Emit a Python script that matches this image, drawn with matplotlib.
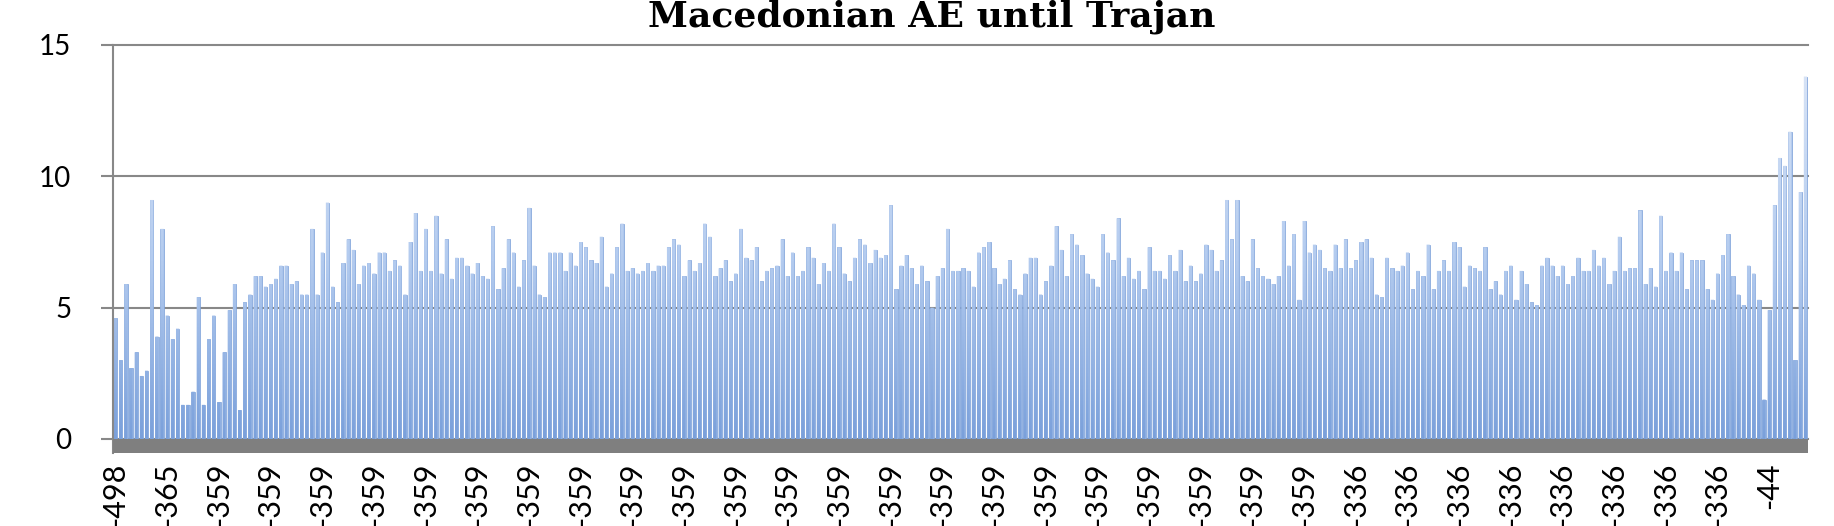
import numpy as np
import matplotlib
matplotlib.use("Agg")
import matplotlib.pyplot as plt
from matplotlib.path import Path
from matplotlib.patches import PathPatch
from matplotlib.colors import LinearSegmentedColormap

# coin weights (g), in date order
weights_a = [4.6, 3.0, 5.9, 2.7, 3.3, 2.4, 2.6, 9.1, 3.9, 8.0,
             4.7, 3.8, 4.2, 1.3, 1.3, 1.8, 5.4, 1.3, 3.8, 4.7,
             1.4, 3.3, 4.9, 5.9, 1.1, 5.2, 5.5, 6.2, 6.2, 5.8,
             5.9, 6.1, 6.6, 6.6, 5.9, 6.0, 5.5, 5.5]
weights_b = [8.0, 5.5, 7.1, 9.0, 5.8, 5.2, 6.7, 7.6, 7.2, 5.9,
             6.6, 6.7, 6.3, 7.1, 7.1, 6.4, 6.8, 6.6, 5.5, 7.5,
             8.6, 6.4, 8.0, 6.4, 8.5, 6.3, 7.6, 6.1, 6.9, 6.9,
             6.6, 6.3, 6.7, 6.2, 6.1, 8.1]
weights_c = [5.7, 6.5, 7.6, 7.1, 5.8, 6.8, 8.8, 6.6, 5.5, 5.4,
             7.1, 7.1, 7.1, 6.4, 7.1, 6.6, 7.5, 7.3, 6.8, 6.7,
             7.7, 5.8, 6.3, 7.3, 8.2, 6.4, 6.5, 6.3, 6.4, 6.7,
             6.4, 6.6, 6.6, 7.3, 7.6, 7.4, 6.2]
weights_d = [6.8, 6.4, 6.7, 8.2, 7.7, 6.2, 6.5, 6.8, 6.0, 6.3,
             8.0, 6.9, 6.8, 7.3, 6.0, 6.4, 6.5, 6.6, 7.6, 6.2,
             7.1, 6.2, 6.4, 7.3, 6.9, 5.9, 6.7, 6.4, 8.2, 7.3,
             6.3, 6.0, 6.9, 7.6, 7.4, 6.7, 7.2]
weights_e = [6.9, 7.0, 8.9, 5.7, 6.6, 7.0, 6.5, 5.9, 6.6, 6.0,
             5.0, 6.2, 6.5, 8.0, 6.4, 6.4, 6.5, 6.4, 5.8, 7.1,
             7.3, 7.5, 6.5, 5.9, 6.1, 6.8, 5.7, 5.5, 6.3, 6.9,
             6.9, 5.5, 6.0, 6.6, 8.1, 7.2]
weights_f = [6.2, 7.8, 7.4, 7.0, 6.3, 6.1, 5.8, 7.8, 7.1, 6.8,
             8.4, 6.2, 6.9, 6.1, 6.4, 5.7, 7.3, 6.4, 6.4, 6.1,
             7.0, 6.4, 7.2, 6.0, 6.6, 6.0, 6.3, 7.4, 7.2, 6.4,
             6.8, 9.1, 7.6, 9.1, 6.2, 6.0, 7.6]
weights_g = [6.5, 6.2, 6.1, 5.9, 6.2, 8.3, 6.6, 7.8, 5.3, 8.3,
             7.1, 7.4, 7.2, 6.5, 6.4, 7.4, 6.5, 7.6, 6.5, 6.8,
             7.5, 7.6, 6.9, 5.5, 5.4, 6.9, 6.5, 6.4, 6.6, 7.1,
             5.7, 6.4, 6.2, 7.4, 5.7, 6.4, 6.8]
weights_h = [6.4, 7.5, 7.3, 5.8, 6.6, 6.5, 6.4, 7.3, 5.7, 6.0,
             5.5, 6.4, 6.6, 5.3, 6.4, 5.9, 5.2, 5.1, 6.6, 6.9,
             6.6, 6.2, 6.6, 5.9, 6.2, 6.9, 6.4, 6.4, 7.2, 6.6,
             6.9, 5.9, 6.4, 7.7, 6.4, 6.5, 6.5]
weights_i = [8.7, 5.9, 6.5, 5.8, 8.5, 6.4, 7.1, 6.4, 7.1, 5.7,
             6.8, 6.8, 6.8, 5.7, 5.3, 6.3, 7.0, 7.8, 6.2, 5.5,
             5.1, 6.6, 6.3, 5.3, 1.5, 4.9, 8.9, 10.7, 10.4, 11.7,
             3.0, 9.4, 13.8]

weights = (weights_a + weights_b + weights_c + weights_d + weights_e
           + weights_f + weights_g + weights_h + weights_i)

# every 10th coin gets its date shown on the axis
date_labels = (["-498", "-365"] + ["-359"] * 22 + ["-336"] * 8 + ["-44"])
yticks = [0, 5, 10, 15]

W, H = 1834, 526
fig = plt.figure(figsize=(W / 100, H / 100), dpi=100)
ax = fig.add_axes([113 / W, 73 / H, 1695 / W, 408 / H])

n = len(weights)
x = np.arange(n)
bars = ax.bar(x, weights, width=0.62, color="#a3bfe9", edgecolor="#7b9fd9",
              linewidth=0.5, zorder=2)

# lighter towards the top, like the excel gradient fill
paths = [b.get_path().transformed(b.get_patch_transform()) for b in bars]
clip = PathPatch(Path.make_compound_path(*paths), transform=ax.transData,
                 facecolor="none", edgecolor="none")
ax.add_patch(clip)
grad = np.linspace(0, 1, 256).reshape(-1, 1)
cmap = LinearSegmentedColormap.from_list(
    "g", [(0, "#7aa0db"), (0.45, "#b3cbef"), (1, "#dde7f7")])
im = ax.imshow(grad, extent=[-0.5, n - 0.5, 0, 15], origin="lower",
               aspect="auto", cmap=cmap, zorder=2.5, interpolation="bilinear")
im.set_clip_path(clip)

# grey floor under the columns
ax.axhspan(-0.533, 0, color="#7f7f7f", zorder=3, lw=0)

for v in yticks:
    ax.axhline(v, color="#888888", lw=1.5, zorder=1, clip_on=False)

ax.set_xlim(-0.5, n - 0.5)
ax.set_ylim(-0.533, 15)

ax.set_yticks(yticks)
ax.set_yticklabels([str(v) for v in yticks], fontsize=20, family="Lato")
ax.tick_params(axis="y", length=9, width=1.5, color="#888888", pad=21)

ax.set_xticks(x[::10])
ax.set_xticklabels(date_labels, rotation=90, fontsize=22, family="Lato",
                   va="top", ha="center")
ax.tick_params(axis="x", length=0, pad=7)

for s in ["top", "right", "bottom"]:
    ax.spines[s].set_visible(False)
ax.spines["left"].set_color("#888888")
ax.spines["left"].set_linewidth(1.5)

fig.text(932 / W, 1 - 26 / H, "Macedonian AE until Trajan", ha="center",
         va="baseline", fontsize=26, family="DejaVu Serif", fontweight="bold")

fig.savefig("out.png", dpi=100)
